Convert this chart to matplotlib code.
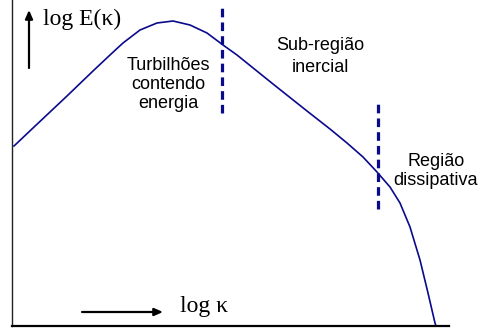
import matplotlib.pyplot as plt

# energy spectrum sketch (arbitrary log units)
log_k = [2, 21, 55, 81, 98, 111, 128, 145, 161, 178, 195, 211, 225,
         261, 295, 318, 335, 351, 365, 378, 388, 398, 408, 416, 423, 424]
log_E = [180, 198, 230, 255, 271, 283, 296, 303, 305, 301, 293, 281, 271,
         242, 215, 197, 183, 169, 154, 139, 123, 99, 66, 33, 3, 0]

# region boundaries: (position, bottom, top)
boundaries = [(210, 213, 322), (366, 117, 226)]

navy = "#0a0a8c"

fig = plt.figure(figsize=(4.83, 3.29), dpi=100)
ax = fig.add_axes([12 / 483, 3 / 329, 437 / 483, 326 / 329])
ax.set_xlim(0, 437)
ax.set_ylim(0, 326)

ax.plot(log_k, log_E, color=navy, linewidth=1.2, clip_on=False,
        solid_joinstyle="round")

for xb, y0, y1 in boundaries:
    ax.plot([xb, xb], [y0, y1], color=navy, linewidth=2.3,
            dashes=(2.7, 1.6), solid_capstyle="butt")

for side in ["top", "right"]:
    ax.spines[side].set_visible(False)
ax.spines["left"].set_linewidth(1.0)
ax.spines["left"].set_color("#222222")
ax.spines["bottom"].set_linewidth(1.6)
ax.set_xticks([])
ax.set_yticks([])

# axis direction arrows
arrow = dict(arrowstyle="-|>,head_length=0.5,head_width=0.22", color="black",
             linewidth=1.6, shrinkA=0, shrinkB=0)
ax.annotate("", xy=(17, 316), xytext=(17, 258), arrowprops=arrow)
ax.annotate("", xy=(151, 14), xytext=(70, 14), arrowprops=arrow)

serif = "Liberation Serif"
sans = "Liberation Sans"
ax.text(31, 301, "log E(\u03ba)", family=serif, fontsize=17, ha="left", va="baseline")
ax.text(168, 14, "log \u03ba", family=serif, fontsize=17, ha="left", va="baseline")

# va="baseline" on multi-line text anchors the last line
ax.text(156, 218, "Turbilhões\ncontendo\nenergia", family=sans, fontsize=13,
        ha="center", va="baseline", linespacing=1.15)
ax.text(308, 254, "Sub-região\ninercial", family=sans, fontsize=13,
        ha="center", va="baseline", linespacing=1.35)
ax.text(424, 141, "Região\ndissipativa", family=sans, fontsize=13,
        ha="center", va="baseline", linespacing=1.15)

fig.savefig("out.png", dpi=100)
